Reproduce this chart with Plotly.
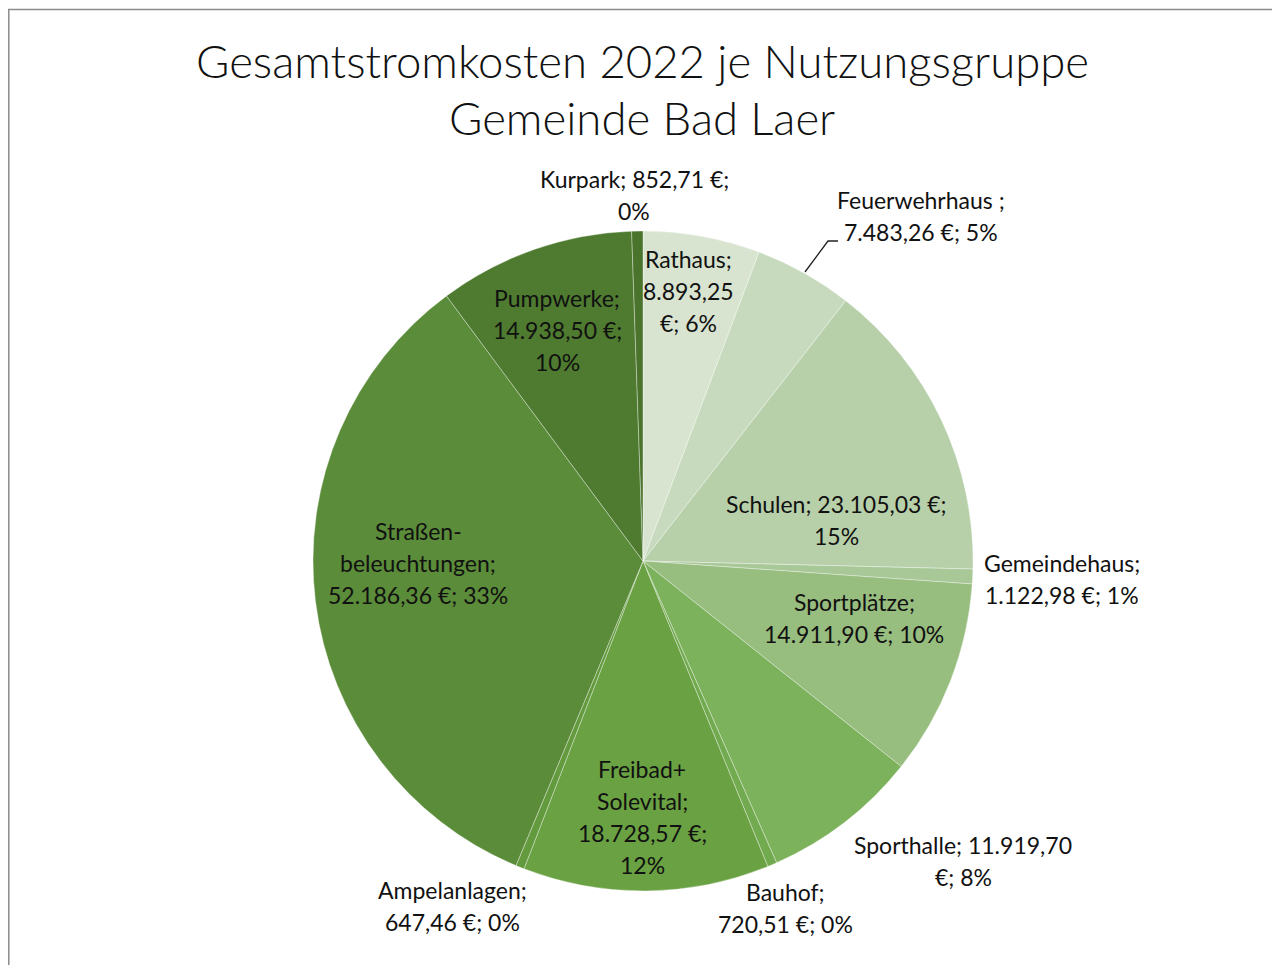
import plotly.graph_objects as go

W, H = 1280, 965
OX, OY = 8, 8  # page body offset of the plot div

categories = ["Rathaus", "Feuerwehrhaus", "Schulen", "Gemeindehaus", "Sportplätze",
              "Sporthalle", "Bauhof", "Freibad+Solevital", "Ampelanlagen",
              "Straßenbeleuchtungen", "Pumpwerke", "Kurpark"]
values = [8893.25, 7483.26, 23105.03, 1122.98, 14911.90, 11919.70, 720.51,
          18728.57, 647.46, 52186.36, 14938.50, 852.71]
colors = ["#d8e4cf", "#c7dabd", "#b7d0aa", "#a8c898", "#97bd7f", "#7cb25c",
          "#72aa4f", "#6aa142", "#639a3e", "#5b8c39", "#4e7b2f", "#4a732b"]

# label text lines (as in the reference layout)
label_lines = [
    ["Rathaus;", "8.893,25", "€; 6%"],
    ["Feuerwehrhaus ;", "7.483,26 €; 5%"],
    ["Schulen; 23.105,03 €;", "15%"],
    ["Gemeindehaus;", "1.122,98 €; 1%"],
    ["Sportplätze;", "14.911,90 €; 10%"],
    ["Sporthalle; 11.919,70", "€; 8%"],
    ["Bauhof;", "720,51 €; 0%"],
    ["Freibad+", "Solevital;", "18.728,57 €;", "12%"],
    ["Ampelanlagen;", "647,46 €; 0%"],
    ["Straßen-", "beleuchtungen;", "52.186,36 €; 33%"],
    ["Pumpwerke;", "14.938,50 €;", "10%"],
    ["Kurpark; 852,71 €;", "0%"],
]
# label block centres in screen pixels (layout)
label_pos = [(688, 291), (921, 216), (836, 520), (1062, 579), (854, 618),
             (963, 861), (785, 908), (642, 817), (452, 906), (418, 563),
             (557, 330), (634, 195)]


def px(x):
    return (x - OX) / W


def py(y):
    return 1 - (y - OY) / H


cx, cy, r = 643, 561, 330
dom_x = [px(cx - r), px(cx + r)]
dom_y = [py(cy + r), py(cy - r)]

fig = go.Figure(go.Pie(
    labels=categories, values=values, sort=False, direction="clockwise",
    rotation=0, textinfo="none", hoverinfo="label+value+percent",
    marker=dict(colors=colors, line=dict(color="rgba(255,255,255,0.35)", width=1)),
    domain=dict(x=dom_x, y=dom_y), showlegend=False,
))

font = "Lato, 'Open Sans', sans-serif"
LS = 32
annotations = []
for lines, (lx, ly) in zip(label_lines, label_pos):
    n = len(lines)
    for i, line in enumerate(lines):
        yy = ly + (i - (n - 1) / 2) * LS
        annotations.append(dict(
            x=px(lx), y=py(yy), xref="paper", yref="paper",
            text=line, showarrow=False, xanchor="center", yanchor="middle",
            font=dict(family=font, size=23, color="#111111"),
        ))

title_lines = ["Gesamtstromkosten 2022 je Nutzungsgruppe", "Gemeinde Bad Laer"]
for i, t in enumerate(title_lines):
    annotations.append(dict(
        x=px(642), y=py(60 + i * 58), xref="paper", yref="paper",
        text=t, showarrow=False, xanchor="center", yanchor="middle",
        font=dict(family=font, size=45.5, color="#111111", weight=300),
    ))

shapes = [
    dict(type="rect", xref="paper", yref="paper", x0=px(8.8), x1=px(1278.5),
         y0=py(980), y1=py(9.5), line=dict(color="#8c8c8c", width=1.5)),
    dict(type="path", xref="paper", yref="paper",
         path=f"M {px(805)},{py(272)} L {px(828)},{py(241)} L {px(838)},{py(241)}",
         line=dict(color="#222222", width=1.3)),
]

fig.update_layout(
    width=W, height=H, margin=dict(l=0, r=0, t=0, b=0),
    paper_bgcolor="white", plot_bgcolor="white",
    annotations=annotations, shapes=shapes,
)

fig.write_html("out.html")
